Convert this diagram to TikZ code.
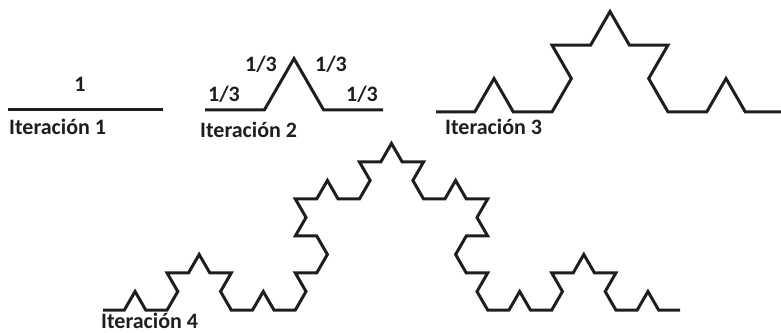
\documentclass[tikz,border=0pt]{standalone}
\usepackage{fontspec}
\setmainfont{Carlito}
\definecolor{ink}{HTML}{1E1E1E}
\pgfkeys{/pgf/foreach/kang/.style={evaluate={\k as \a using 60*(equal(mod(\k,4),1)-equal(mod(\k,4),2)) + 60*(equal(mod(floor(\k/4),4),1)-equal(mod(floor(\k/4),4),2)) + 60*(equal(mod(floor(\k/16),4),1)-equal(mod(floor(\k/16),4),2))}}}
\begin{document}
\begin{tikzpicture}[x=1pt,y=1pt,
  curve/.style={line width=3pt, draw=ink, line join=miter},
  lbl/.style={font=\fontsize{22}{25}\selectfont\bfseries, text=ink, inner sep=0pt},
]
\clip (0,0) rectangle (781,332);
\useasboundingbox (0,0) rectangle (781,332);
% Iteration 1
\coordinate (a1) at (8,222);
\coordinate (b1) at (163,222);
\draw[curve] (a1) -- (b1);
\node[lbl, anchor=base] (one) at (80,240) {1};
\node[lbl, anchor=base west] (it1) at (9,197.5) {Iteración 1};
% Iteration 2
\coordinate (a2) at (205,222);
\draw[curve] (a2) \foreach \k [kang] in {0,...,3} { -- ++(\a:59.333) };
\node[lbl, anchor=base] (t1) at (224,230) {1/3};
\node[lbl, anchor=base] (t2) at (261,260) {1/3};
\node[lbl, anchor=base] (t3) at (331,260) {1/3};
\node[lbl, anchor=base] (t4) at (362,230) {1/3};
\node[lbl, anchor=base west] (it2) at (200,194) {Iteración 2};
% Iteration 3
\coordinate (a3) at (436,220);
\draw[curve] (a3) \foreach \k [kang] in {0,...,15} { -- ++(\a:38.667) };
\node[lbl, anchor=base west] (it3) at (445,197) {Iteración 3};
% Iteration 4
\coordinate (a4) at (103,22);
\draw[curve] (a4) \foreach \k [kang] in {0,...,63} { -- ++(\a:21.370) };
\node[lbl, anchor=base west] (it4) at (101,3.8) {Iteración 4};
\end{tikzpicture}
\end{document}
